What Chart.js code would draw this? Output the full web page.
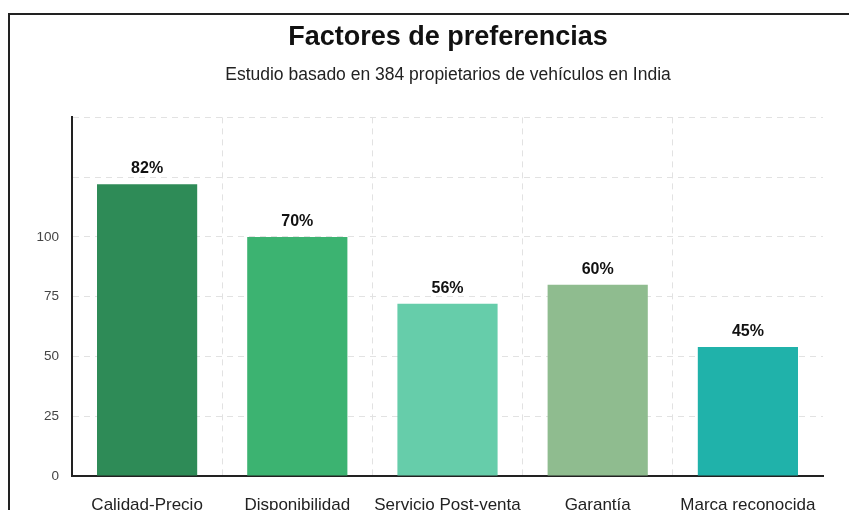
<!DOCTYPE html>
<html>
<head>
<meta charset="utf-8">
<script src="https://cdn.jsdelivr.net/npm/chart.js@4"></script>
<style>
  html, body { margin: 0; padding: 0; background: #fff; overflow: hidden; }
  #frame {
    position: absolute; left: 8px; top: 13px; width: 900px; height: 520px;
    border-top: 2px solid #222; border-left: 2px solid #222;
  }
  #box { position: absolute; left: 10px; top: 16px; width: 876px; height: 520px; }
</style>
</head>
<body>
<div id="frame"></div>
<div id="box"><canvas id="chart"></canvas></div>
<script>
// data
var categories = ["Calidad-Precio", "Disponibilidad", "Servicio Post-venta", "Garantía", "Marca reconocida"];
var values = [122, 100, 72, 80, 54];
var pctLabels = ["82%", "70%", "56%", "60%", "45%"];
var barColors = ["#2e8b57", "#3cb371", "#66cdaa", "#8fbc8f", "#20b2aa"];
var yTicksShown = [0, 25, 50, 75, 100];

var font = "'Liberation Sans', Arial, Helvetica, sans-serif";
var gridColor = "#e2e2e2";

// draws the percent text above each bar
var barLabels = {
  id: "barLabels",
  afterDatasetsDraw: function (chart) {
    var c = chart.ctx;
    var meta = chart.getDatasetMeta(0);
    c.save();
    c.font = "bold 16px " + font;
    c.fillStyle = "#111";
    c.textAlign = "center";
    c.textBaseline = "alphabetic";
    meta.data.forEach(function (bar, i) {
      c.fillText(pctLabels[i], bar.x, bar.y - 11);
    });
    c.restore();
  }
};

new Chart(document.getElementById("chart").getContext("2d"), {
  type: "bar",
  data: {
    labels: categories,
    datasets: [{
      data: values,
      backgroundColor: barColors,
      barPercentage: 0.667,
      categoryPercentage: 1
    }]
  },
  plugins: [barLabels],
  options: {
    responsive: true,
    maintainAspectRatio: false,
    animation: false,
    plugins: {
      legend: { display: false },
      tooltip: { enabled: false },
      title: {
        display: true,
        text: "Factores de preferencias",
        color: "#111",
        font: { family: font, size: 27, weight: "bold" },
        padding: { top: 5, bottom: 8 }
      },
      subtitle: {
        display: true,
        text: "Estudio basado en 384 propietarios de vehículos en India",
        color: "#222",
        font: { family: font, size: 17.5 },
        padding: { top: 3, bottom: 32 }
      }
    },
    scales: {
      x: {
        grid: {
          drawTicks: false,
          // the extra line at the right end has no tick, leave it out
          color: function (ctx) { return ctx.tick ? gridColor : "transparent"; }
        },
        border: { color: "#222", width: 2, dash: [6, 5] },
        ticks: {
          color: "#222",
          padding: 19,
          autoSkip: false,
          maxRotation: 0,
          minRotation: 0,
          font: { family: font, size: 17 }
        },
        afterFit: function (s) { s.height = 60; }
      },
      y: {
        min: 0,
        max: 150,
        grid: { color: gridColor, drawTicks: false },
        border: { color: "#222", width: 2, dash: [6, 5] },
        ticks: {
          stepSize: 25,
          color: "#444",
          padding: 13,
          font: { family: font, size: 13.5 },
          callback: function (v) { return yTicksShown.indexOf(v) >= 0 ? v : ""; }
        },
        afterFit: function (s) { s.width = 62; }
      },
      // empty right axis, only to keep space right of the plot
      yRight: {
        position: "right",
        display: true,
        grid: { display: false },
        border: { display: false },
        ticks: { display: false },
        afterFit: function (s) { s.width = 63; }
      }
    }
  }
});
</script>
</body>
</html>
